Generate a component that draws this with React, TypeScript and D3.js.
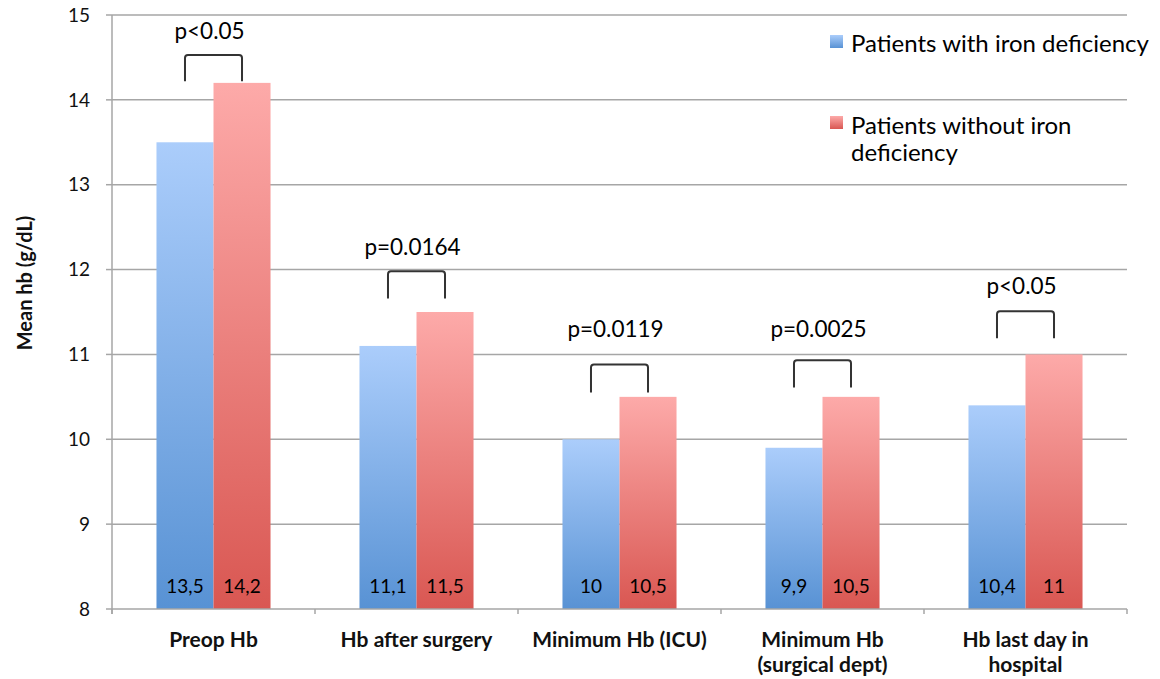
import React from 'react';
import * as d3 from 'd3';

// chart data
const categories = [
  ['Preop Hb'],
  ['Hb after surgery'],
  ['Minimum Hb (ICU)'],
  ['Minimum Hb', '(surgical dept)'],
  ['Hb last day in', 'hospital'],
];
const withIronDef = [13.5, 11.1, 10, 9.9, 10.4];
const withoutIronDef = [14.2, 11.5, 10.5, 10.5, 11];
const seriesNames = ['Patients with iron deficiency', 'Patients without iron deficiency'];
const yTicks = [8, 9, 10, 11, 12, 13, 14, 15];

// significance annotations (levels in g/dL)
const pLabels = ['p<0.05', 'p=0.0164', 'p=0.0119', 'p=0.0025', 'p<0.05'];
const pLabelLevel = [14.72, 12.17, 11.21, 11.2, 11.71];
const bracketTop = [14.53, 11.98, 10.88, 10.93, 11.51];
const bracketBottom = [14.22, 11.66, 10.55, 10.61, 11.19];

const W = 1160;
const H = 679;
const margin = { top: 15, right: 33, bottom: 70, left: 112 };
const FONT = 'Lato, "Open Sans", sans-serif';

const commaFmt = d3.formatLocale({ decimal: ',', thousands: '.', grouping: [3], currency: ['', ''] }).format('~g');

export default function App() {
  const keys = categories.map((_, i) => String(i));
  const x0 = d3.scaleBand().domain(keys).range([margin.left, W - margin.right]).padding(0);
  const x1 = d3.scaleBand().domain(['a', 'b']).range([0, x0.bandwidth()]).paddingInner(0).paddingOuter(0.78);
  const y = d3.scaleLinear().domain([8, 15]).range([H - margin.bottom, margin.top]);

  const rows = keys.map((k, i) => ({ k, i, a: withIronDef[i], b: withoutIronDef[i] }));
  const bw = x1.bandwidth();
  const base = y(8);

  return (
    <svg width={W} height={H} style={{ position: 'absolute', left: 0, top: 0, background: '#fff' }} fontFamily={FONT}>
      <defs>
        <linearGradient id="gBlue" x1="0" y1="0" x2="0" y2="1">
          <stop offset="0" stopColor="#abcdfb" />
          <stop offset="1" stopColor="#5892d4" />
        </linearGradient>
        <linearGradient id="gRed" x1="0" y1="0" x2="0" y2="1">
          <stop offset="0" stopColor="#fdaaa9" />
          <stop offset="1" stopColor="#d95752" />
        </linearGradient>
      </defs>

      {/* grid + y axis */}
      {yTicks.map(t => (
        <g key={t}>
          {t > 8 && <line x1={margin.left} x2={W - margin.right} y1={y(t)} y2={y(t)} stroke="#a6a6a6" strokeWidth={1.5} />}
          <line x1={margin.left - 6} x2={margin.left} y1={y(t)} y2={y(t)} stroke="#a6a6a6" strokeWidth={1.5} />
          <text x={margin.left - 22} y={y(t)} dy="0.35em" textAnchor="end" fontSize={19} fill="#111">{t}</text>
        </g>
      ))}
      <line x1={margin.left} x2={margin.left} y1={y(15)} y2={base + 5} stroke="#a6a6a6" strokeWidth={1.5} />
      <text transform={`translate(32,283) rotate(-90)`} textAnchor="middle" fontSize={20} fontWeight="bold" fill="#111">Mean hb (g/dL)</text>

      {/* bars */}
      {rows.map(r => {
        const gx = x0(r.k)!;
        return (
          <g key={r.k}>
            <rect x={gx + x1('a')!} y={y(r.a)} width={bw} height={base - y(r.a)} fill="url(#gBlue)" />
            <rect x={gx + x1('b')!} y={y(r.b)} width={bw} height={base - y(r.b)} fill="url(#gRed)" />
            <text x={gx + x1('a')! + bw / 2} y={base - 16} textAnchor="middle" fontSize={19} fill="#000">{commaFmt(r.a)}</text>
            <text x={gx + x1('b')! + bw / 2} y={base - 16} textAnchor="middle" fontSize={19} fill="#000">{commaFmt(r.b)}</text>
          </g>
        );
      })}

      {/* x axis */}
      <line x1={margin.left} x2={W - margin.right} y1={base} y2={base} stroke="#a6a6a6" strokeWidth={1.5} />
      {keys.concat(['end']).map((k, i) => {
        const xx = margin.left + i * x0.step();
        return <line key={k} x1={xx} x2={xx} y1={base} y2={base + 5} stroke="#a6a6a6" strokeWidth={1.5} />;
      })}
      {categories.map((lines, i) => (
        <text key={i} x={x0(String(i))! + x0.bandwidth() / 2} y={base + 38} textAnchor="middle" fontSize={21} fontWeight="bold" fill="#111">
          {lines.map((l, j) => (
            <tspan key={j} x={x0(String(i))! + x0.bandwidth() / 2} dy={j === 0 ? 0 : 25}>{l}</tspan>
          ))}
        </text>
      ))}

      {/* brackets */}
      {rows.map(r => {
        const gx = x0(r.k)!;
        const xl = gx + x1('a')! + bw / 2;
        const xr = gx + x1('b')! + bw / 2;
        const yt = y(bracketTop[r.i]);
        const yb = y(bracketBottom[r.i]);
        const rad = 3;
        const d = `M${xl},${yb} L${xl},${yt + rad} Q${xl},${yt} ${xl + rad},${yt} L${xr - rad},${yt} Q${xr},${yt} ${xr},${yt + rad} L${xr},${yb}`;
        return (
          <g key={r.k}>
            <path d={d} fill="none" stroke="#333" strokeWidth={2} />
            <text x={gx + x0.bandwidth() / 2 - 4} y={y(pLabelLevel[r.i])} textAnchor="middle" fontSize={22.5} fill="#000">{pLabels[r.i]}</text>
          </g>
        );
      })}

      {/* legend */}
      <g>
        <rect x={830} y={35} width={13} height={13} fill="url(#gBlue)" />
        <text x={851} y={52} fontSize={24} fill="#000">{seriesNames[0]}</text>
        <rect x={830} y={116} width={13} height={13} fill="url(#gRed)" />
        <text x={851} y={134} fontSize={24} fill="#000">
          <tspan x={851}>Patients without iron</tspan>
          <tspan x={851} dy={27}>deficiency</tspan>
        </text>
      </g>
    </svg>
  );
}
